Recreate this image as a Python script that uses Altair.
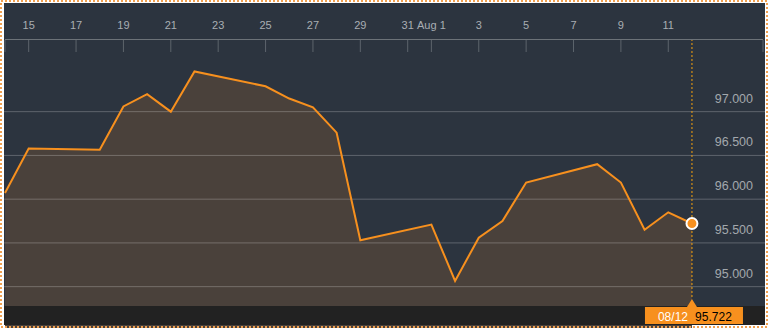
import altair as alt
import pandas as pd

# ---- data ----
dates = ["2016-07-14", "2016-07-15", "2016-07-18", "2016-07-19", "2016-07-20",
         "2016-07-21", "2016-07-22", "2016-07-25", "2016-07-26", "2016-07-27",
         "2016-07-28", "2016-07-29", "2016-08-01", "2016-08-02", "2016-08-03",
         "2016-08-04", "2016-08-05", "2016-08-08", "2016-08-09", "2016-08-10",
         "2016-08-11", "2016-08-12"]
values = [96.07, 96.58, 96.565, 97.06, 97.20,
          97.00, 97.46, 97.29, 97.15, 97.05,
          96.76, 95.53, 95.71, 95.065, 95.56,
          95.75, 96.19, 96.40, 96.19, 95.65,
          95.85, 95.722]

tick_dates = ["2016-07-14", "2016-07-15", "2016-07-17", "2016-07-19", "2016-07-21",
              "2016-07-23", "2016-07-25", "2016-07-27", "2016-07-29", "2016-07-31",
              "2016-08-01", "2016-08-03", "2016-08-05", "2016-08-07", "2016-08-09",
              "2016-08-11", "2016-08-15"]
tick_labels = ["", "15", "17", "19", "21", "23", "25", "27", "29", "31",
               "Aug 1", "3", "5", "7", "9", "11", ""]

y_ticks = [95.0, 95.5, 96.0, 96.5, 97.0]
y_labels = ["95.000", "95.500", "96.000", "96.500", "97.000"]

# ---- styles ----
BG = "#2c343f"
AREA = "#4a413b"
ORANGE = "#f7901e"
FONT = "Liberation Sans"
W, H = 761, 266

df = pd.DataFrame({"date": [d + "T00:00:00" for d in dates], "value": values})
last = df.tail(1)
ticks = pd.DataFrame({"date": [d + "T00:00:00" for d in tick_dates], "label": tick_labels})
yt = pd.DataFrame({"v": y_ticks, "label": y_labels})
one = pd.DataFrame({"k": [0]})

xscale = alt.Scale(domain=[alt.DateTime(year=2016, month=7, date=13, hours=23),
                           alt.DateTime(year=2016, month=8, date=15, hours=2)])
yscale = alt.Scale(domain=[94.779, 97.819], zero=False, nice=False)

X = alt.X("date:T", scale=xscale, axis=None)
Y = alt.Y("value:Q", scale=yscale, axis=None)

top_band = alt.Chart(one).mark_rect(color=BG).encode(
    x=alt.value(0), x2=alt.value(W), y=alt.value(-37), y2=alt.value(0))

area = alt.Chart(df).mark_area(color=AREA, opacity=1).encode(
    x=X, y=Y, y2=alt.value(H))

grid = alt.Chart(yt).mark_rule(color="white", opacity=0.24, strokeWidth=1).encode(
    y=alt.Y("v:Q", scale=yscale, axis=None))

line = alt.Chart(df).mark_line(color=ORANGE, strokeWidth=2).encode(x=X, y=Y)

dashed = alt.Chart(last).mark_rule(color="#f5a20f", strokeWidth=1, strokeDash=[2, 2]).encode(
    x=X, y=alt.value(-1), y2=alt.value(259))

marker = alt.Chart(last).mark_point(filled=True, fill=ORANGE, stroke="white",
                                    strokeWidth=2, size=120, opacity=1).encode(x=X, y=Y)

ylab = alt.Chart(yt).mark_text(align="right", baseline="middle", dy=-13, fontSize=12.5,
                               font=FONT, color="#a3a8ad").encode(
    x=alt.value(749), y=alt.Y("v:Q", scale=yscale, axis=None), text="label:N")

axis_line = alt.Chart(one).mark_rule(color="#6c7278", strokeWidth=1).encode(
    x=alt.value(1), x2=alt.value(759), y=alt.value(-0.5))

tick_marks = alt.Chart(ticks).mark_rule(color="#5d646c", strokeWidth=1).encode(
    x=X, y=alt.value(0), y2=alt.value(12))

xlab = alt.Chart(ticks).mark_text(baseline="alphabetic", fontSize=11, font=FONT,
                                  color="#a9aeb3").encode(
    x=X, y=alt.value(-11), text="label:N")

bottom = alt.Chart(one).mark_rect(color="#222222").encode(
    x=alt.value(0), x2=alt.value(W), y=alt.value(H), y2=alt.value(285))

box_path = ("M-0.959,-0.1735L-0.102,-0.1735L0,-0.337L0.102,-0.1735L1.041,-0.1735"
            "L1.041,0.1735L-0.959,0.1735Z")
tip = alt.Chart(last).mark_point(shape=box_path, filled=True, fill=ORANGE, size=9604,
                                 opacity=1, strokeWidth=0).encode(x=X, y=alt.value(275.5))

tip_date = alt.Chart(last).mark_text(align="center", baseline="middle", dx=-19, fontSize=12,
                                     font=FONT, color="white").encode(
    x=X, y=alt.value(276.5), text=alt.Text("date:T", format="%m/%d"))

tip_val = alt.Chart(last).mark_text(align="center", baseline="middle", dx=21.5, fontSize=12,
                                    font=FONT, color="black").encode(
    x=X, y=alt.value(276.5), text=alt.Text("value:Q", format=".3f"))

border = alt.Chart(one).mark_rect(fill="transparent", stroke="#f0a050", strokeWidth=2,
                                  strokeDash=[2, 2]).encode(
    x=alt.value(-3), x2=alt.value(763), y=alt.value(-39), y2=alt.value(287))

chart = alt.layer(
    top_band, area, grid, line, dashed, marker, ylab, axis_line, tick_marks, xlab,
    bottom, tip, tip_date, tip_val, border
).properties(
    width=W, height=H,
    padding={"left": 4, "top": 40, "right": 3, "bottom": 22},
    autosize=alt.AutoSizeParams(type="none"),
    background="white",
).configure_view(fill=BG, strokeWidth=0)

chart.save("out.html", embed_options={"renderer": "svg", "actions": False})
